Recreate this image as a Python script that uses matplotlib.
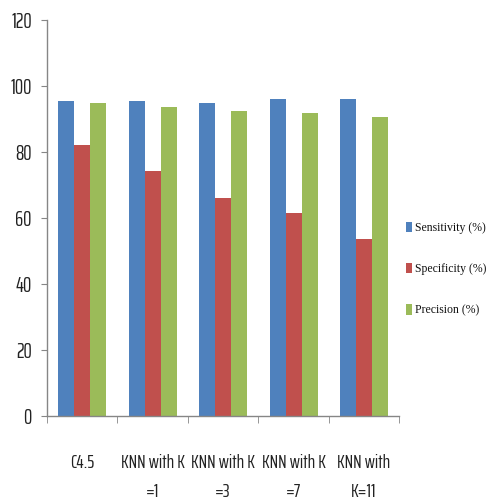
import numpy as np
import matplotlib.pyplot as plt

# ---------------- data ----------------
methods = ["C4.5", "KNN with K\n=1", "KNN with K\n=3", "KNN with K\n=7", "KNN with\nK=11"]
sensitivity = [95.5, 95.5, 94.7, 96.1, 96.1]
specificity = [82.0, 74.1, 66.2, 61.4, 53.5]
precision = [94.7, 93.6, 92.4, 91.7, 90.5]

series_names = ["Sensitivity (%)", "Specificity (%)", "Precision (%)"]
colors = ["#4F81BD", "#C0504D", "#9BBB59"]

label_font = "Saira ExtraCondensed"

# ---------------- plot ----------------
fig = plt.figure(figsize=(4.92, 5.0), dpi=100)
ax = fig.add_axes([0.0955, 0.168, 0.716, 0.792])

x = np.arange(len(methods))
w = 0.227
for k, (vals, name, c) in enumerate(zip([sensitivity, specificity, precision], series_names, colors)):
    ax.bar(x + (k - 1) * w, vals, width=w, color=c, label=name)

ax.set_xlim(-0.5, len(methods) - 0.5)
ax.set_ylim(0, 120)
ax.set_yticks(range(0, 121, 20))

axis_col = "#868686"
for s in ["top", "right"]:
    ax.spines[s].set_visible(False)
for s in ["left", "bottom"]:
    ax.spines[s].set_color(axis_col)
    ax.spines[s].set_linewidth(1.0)

# tick marks between the groups, labels in the middle
ax.set_xticks(x)
ax.set_xticks(np.arange(-0.5, len(methods)), minor=True)
ax.set_xticklabels(methods, fontsize=14, family=label_font,
                   linespacing=1.85, va="top", color="#222222")
ax.tick_params(axis="x", which="major", length=0, pad=27)
ax.tick_params(axis="x", which="minor", length=5, color=axis_col, direction="out")
ax.tick_params(axis="y", length=4, color=axis_col, direction="out", pad=7,
               labelsize=15, labelcolor="#222222")
for lab in ax.get_yticklabels():
    lab.set_family(label_font)

fig.legend(loc="center left", bbox_to_anchor=(0.826, 0.462), frameon=False,
           prop={"family": "Liberation Serif", "size": 8.5},
           handlelength=0.45, handleheight=1.0, handletextpad=0.25,
           labelspacing=2.45, borderpad=0, borderaxespad=0, labelcolor="#111111")

fig.savefig("out.png", dpi=100)
